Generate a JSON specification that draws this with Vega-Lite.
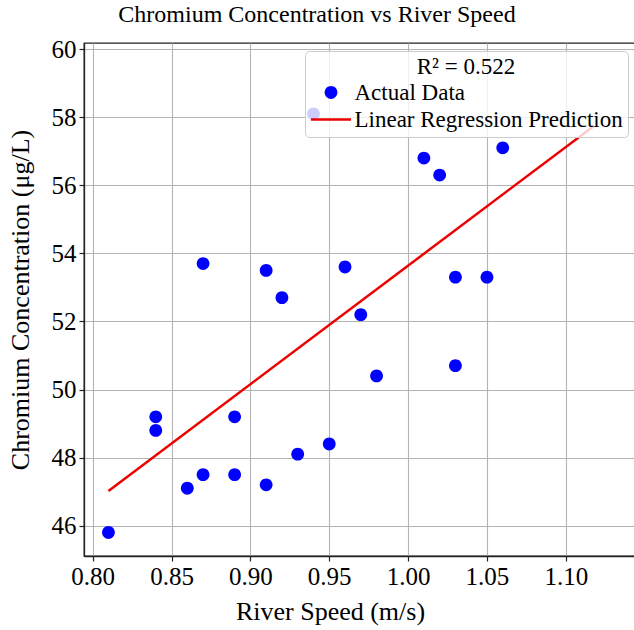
{
  "$schema": "https://vega.github.io/schema/vega-lite/v6.json",
  "width": 552,
  "height": 513,
  "autosize": {"type": "none"},
  "padding": {"left": 84, "top": 43, "right": 0, "bottom": 74},
  "background": "white",
  "title": {
    "text": "Chromium Concentration vs River Speed",
    "font": "Liberation Serif",
    "fontSize": 24,
    "fontWeight": "normal",
    "color": "#000000",
    "anchor": "middle",
    "dx": -43,
    "offset": 10
  },
  "datasets": {
    "points": [
      {"speed": 0.81, "chromium": 45.8},
      {"speed": 0.84, "chromium": 49.2},
      {"speed": 0.84, "chromium": 48.8},
      {"speed": 0.86, "chromium": 47.1},
      {"speed": 0.87, "chromium": 47.5},
      {"speed": 0.87, "chromium": 53.7},
      {"speed": 0.89, "chromium": 49.2},
      {"speed": 0.89, "chromium": 47.5},
      {"speed": 0.91, "chromium": 53.5},
      {"speed": 0.91, "chromium": 47.2},
      {"speed": 0.92, "chromium": 52.7},
      {"speed": 0.93, "chromium": 48.1},
      {"speed": 0.94, "chromium": 58.1},
      {"speed": 0.95, "chromium": 48.4},
      {"speed": 0.96, "chromium": 53.6},
      {"speed": 0.97, "chromium": 52.2},
      {"speed": 0.98, "chromium": 50.4},
      {"speed": 1.01, "chromium": 56.8},
      {"speed": 1.02, "chromium": 56.3},
      {"speed": 1.03, "chromium": 53.3},
      {"speed": 1.03, "chromium": 50.7},
      {"speed": 1.05, "chromium": 53.3},
      {"speed": 1.06, "chromium": 57.1}
    ],
    "fit": [
      {"speed": 0.81, "chromium": 47.02},
      {"speed": 1.118, "chromium": 57.75}
    ]
  },
  "config": {
    "view": {"stroke": "#222222", "strokeWidth": 1.3},
    "axis": {
      "labelFont": "Liberation Serif",
      "titleFont": "Liberation Serif",
      "labelFontSize": 25,
      "titleFontSize": 26,
      "titleFontWeight": "normal",
      "labelColor": "#000000",
      "titleColor": "#000000",
      "domainColor": "#222222",
      "domainWidth": 1.3,
      "tickColor": "#222222",
      "tickSize": 5,
      "tickWidth": 1.2,
      "gridColor": "#b4b4b4",
      "gridWidth": 1.1,
      "gridOpacity": 1
    },
    "legend": {
      "titleFont": "Liberation Serif",
      "titleFontSize": 23,
      "titleFontWeight": "normal",
      "titleColor": "#000000",
      "titleAnchor": "middle",
      "titleAlign": "center",
      "titlePadding": 2,
      "labelFont": "Liberation Serif",
      "labelFontSize": 23,
      "labelColor": "#000000",
      "labelOffset": 12,
      "labelLimit": 400,
      "symbolSize": 529,
      "symbolOffset": 9.5,
      "symbolStrokeWidth": 0,
      "rowPadding": 3,
      "padding": 5,
      "fillColor": "rgba(255,255,255,0.8)",
      "strokeColor": "#cccccc",
      "cornerRadius": 4
    }
  },
  "layer": [
    {
      "data": {"name": "points"},
      "mark": {"type": "point", "filled": true, "size": 529, "opacity": 1, "strokeWidth": 0},
      "encoding": {
        "x": {
          "field": "speed",
          "type": "quantitative",
          "scale": {"domain": [0.7945, 1.1445], "nice": false, "zero": false},
          "axis": {
            "title": "River Speed (m/s)",
            "values": [0.8, 0.85, 0.9, 0.95, 1.0, 1.05, 1.1],
            "format": ".2f",
            "labelPadding": 3,
            "titlePadding": 9,
            "titleX": 246,
            "titleAnchor": "middle"
          }
        },
        "y": {
          "field": "chromium",
          "type": "quantitative",
          "scale": {"domain": [45.11, 60.18], "nice": false, "zero": false},
          "axis": {
            "title": "Chromium Concentration (μg/L)",
            "values": [46, 48, 50, 52, 54, 56, 58, 60],
            "labelPadding": 3,
            "titlePadding": 18
          }
        },
        "color": {
          "datum": "Actual Data",
          "type": "nominal",
          "scale": {
            "domain": ["Actual Data", "Linear Regression Prediction"],
            "range": ["#0000ff", "#ee0000"]
          },
          "legend": {"title": "R² = 0.522", "orient": "top-right", "offset": 8}
        },
        "shape": {
          "datum": "Actual Data",
          "type": "nominal",
          "scale": {
            "domain": ["Actual Data", "Linear Regression Prediction"],
            "range": [
              "M-0.556,0A0.556,0.556,0,1,0,0.556,0A0.556,0.556,0,1,0,-0.556,0Z",
              "M-1.739,-0.109H1.739V0.109H-1.739Z"
            ]
          },
          "legend": {"title": "R² = 0.522", "orient": "top-right", "offset": 8}
        }
      }
    },
    {
      "data": {"name": "fit"},
      "mark": {"type": "line", "strokeWidth": 2.5},
      "encoding": {
        "x": {"field": "speed", "type": "quantitative"},
        "y": {"field": "chromium", "type": "quantitative"},
        "color": {"datum": "Linear Regression Prediction", "type": "nominal", "legend": null}
      }
    }
  ]
}
